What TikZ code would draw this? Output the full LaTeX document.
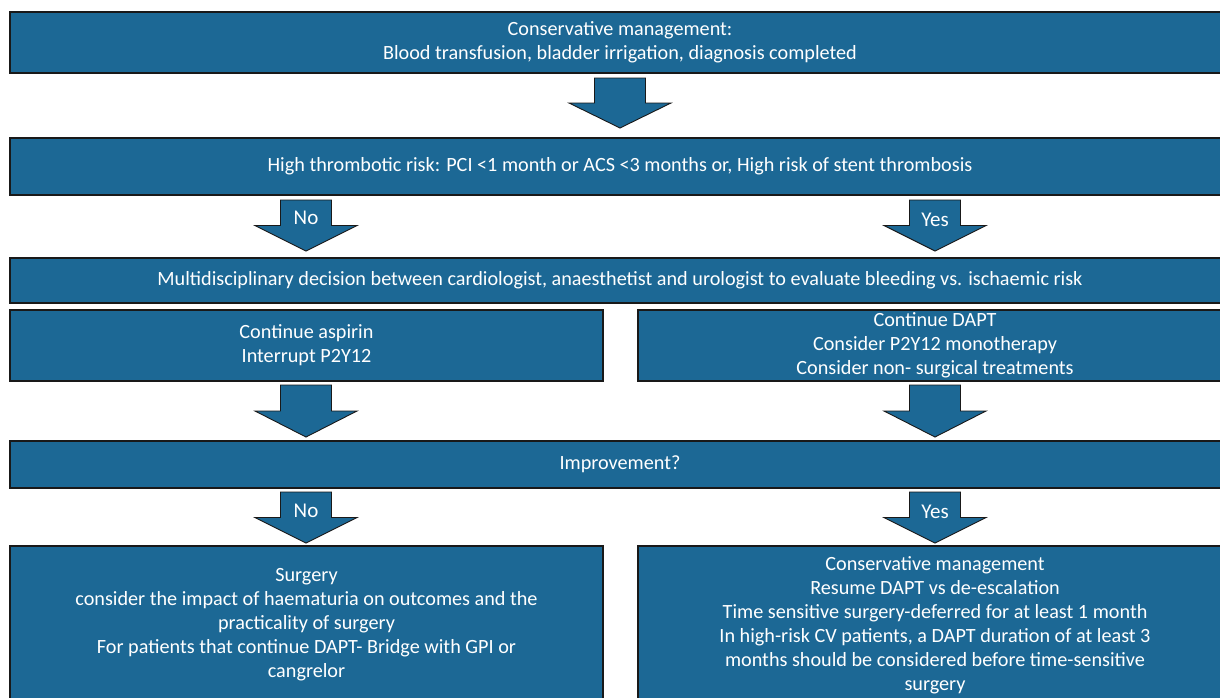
\documentclass[tikz,border=0pt]{standalone}
\usepackage{fontspec}
\setmainfont{Carlito}
\definecolor{boxblue}{RGB}{28,104,149}
\begin{document}
\begin{tikzpicture}[x=1pt,y=-1pt,
  box/.style={draw=black!90, line width=1.1pt, fill=boxblue, text=white,
    align=center, inner sep=0pt, font=\fontsize{20.2}{24}\selectfont},
  arrowshape/.style={draw=black!90, line width=0.9pt, fill=boxblue, line join=miter},
  arrowlabel/.style={text=white, font=\fontsize{21}{24}\selectfont, inner sep=0pt}
]
\newcommand\blockarrow[3]{% center x, top y, tip y
  \pgfmathsetmacro\sb{(#2+#3)/2}
  \draw[arrowshape] (#1-25.5,#2) -- (#1+25.5,#2) -- (#1+25.5,\sb) -- (#1+51,\sb)
    -- (#1,#3) -- (#1-51,\sb) -- (#1-25.5,\sb) -- cycle;}
\useasboundingbox (0,0) rectangle (1220,697);
\clip (0,0) rectangle (1220,697);
\fill[white] (0,0) rectangle (1220,697);

\node[box, minimum width=1220, minimum height=61] (cons) at (620,42.5)
  {Conservative management:\\Blood transfusion, bladder irrigation, diagnosis completed};
\blockarrow{620}{78}{128}

\node[box, minimum width=1220, minimum height=57] (risk) at (620,166.5)
  {High thrombotic risk: PCI <1 month or ACS <3 months or, High risk of stent thrombosis};
\blockarrow{306}{200}{251}
\node[arrowlabel] (no1) at (306,218) {No};
\blockarrow{935}{200}{251}
\node[arrowlabel] (yes1) at (935,220) {Yes};

\node[box, minimum width=1220, minimum height=45] (multi) at (620,280.5)
  {Multidisciplinary decision between cardiologist, anaesthetist and urologist to evaluate bleeding vs. ischaemic risk};

\node[box, minimum width=593, minimum height=71] (asp) at (306.5,345.5)
  {Continue aspirin\\Interrupt P2Y12};
\node[box, minimum width=594, minimum height=71] (dapt) at (935,345.5)
  {Continue DAPT\\Consider P2Y12 monotherapy\\Consider non- surgical treatments};
\blockarrow{306}{385}{437}
\blockarrow{935}{385}{437}

\node[box, minimum width=1220, minimum height=47] (impr) at (620,464.5)
  {Improvement?};
\blockarrow{306}{492}{543}
\node[arrowlabel] (no2) at (306,511) {No};
\blockarrow{935}{492}{543}
\node[arrowlabel] (yes2) at (935,512) {Yes};

\node[box, minimum width=593, minimum height=158] (surg) at (306.5,625)
  {Surgery\\consider the impact of haematuria on outcomes and the\\practicality of surgery\\For patients that continue DAPT- Bridge with GPI or\\cangrelor};
\node[box, minimum width=594, minimum height=158] (consm) at (935,625)
  {Conservative management\\Resume DAPT vs de-escalation\\Time sensitive surgery-deferred for at least 1 month\\In high-risk CV patients, a DAPT duration of at least 3\\months should be considered before time-sensitive\\surgery};
\end{tikzpicture}
\end{document}
